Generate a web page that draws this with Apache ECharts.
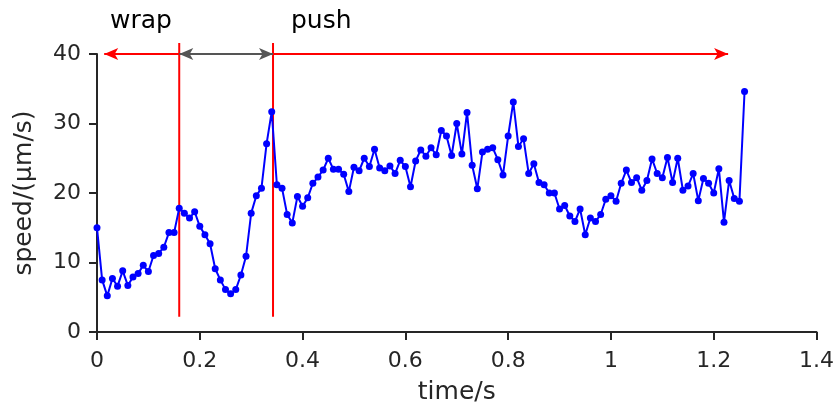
<!DOCTYPE html>
<html>
<head>
<meta charset="utf-8">
<script src="https://cdn.jsdelivr.net/npm/echarts@6/dist/echarts.min.js"></script>
<style>
  html, body { margin: 0; padding: 0; background: #fff; }
  #main { width: 837px; height: 412px; }
</style>
</head>
<body>
<div id="main"></div>
<script>
// 采样: 从 0 s 开始, 每 0.01 s 一个点
var t0 = 0;
var dt = 0.01;
// 速度 (μm/s)
var speed = [
  15.0, 7.5, 5.2, 7.7, 6.6, 8.8, 6.7, 7.9, 8.4, 9.6,
  8.7, 11.0, 11.3, 12.2, 14.3, 14.3, 17.8, 17.1, 16.4, 17.3,
  15.2, 14.0, 12.7, 9.1, 7.5, 6.1, 5.5, 6.1, 8.2, 10.9,
  17.1, 19.6, 20.7, 27.1, 31.7, 21.2, 20.7, 16.9, 15.7, 19.5,
  18.1, 19.3, 21.4, 22.3, 23.3, 25.0, 23.4, 23.4, 22.7, 20.2,
  23.7, 23.2, 25.0, 23.8, 26.3, 23.6, 23.2, 23.9, 22.8, 24.7,
  23.8, 20.9, 24.6, 26.2, 25.3, 26.5, 25.5, 29.0, 28.2, 25.4,
  30.0, 25.6, 31.6, 24.0, 20.6, 25.9, 26.3, 26.5, 24.8, 22.6,
  28.2, 33.1, 26.7, 27.8, 22.8, 24.2, 21.5, 21.2, 20.0, 20.0,
  17.7, 18.2, 16.7, 15.9, 17.7, 14.0, 16.4, 15.9, 16.9, 19.1,
  19.6, 18.8, 21.4, 23.3, 21.5, 22.2, 20.4, 21.8, 24.9, 22.8,
  22.2, 25.1, 21.5, 25.0, 20.4, 21.0, 22.8, 18.9, 22.1, 21.4,
  20.0, 23.5, 15.8, 21.8, 19.2, 18.8, 34.6
];
// 阶段分界 (s)
var wrapStart = 0.014;
var wrapEnd = 0.16;
var pushEnd = 0.3425;
var arrowEnd = 1.228;
var arrowY = 40;
var markLow = 2.2;
var markHigh = 41.6;
var phaseLabels = ['wrap', 'push'];

var axisColor = '#262626';
var font = 'DejaVu Sans';

(function(){
    var myChart = echarts.init(document.getElementById('main'));
    var points = speed.map(function(v, i){
        return [+(t0 + i * dt).toFixed(2), v];
    });
    // 竖直分界线
    function vline(x){
        return {
            type: 'line',
            data: [[x, markLow], [x, markHigh]],
            symbol: 'none',
            clip: false,
            silent: true,
            z: 1,
            lineStyle: { color: '#ff0000', width: 2 }
        };
    }
    var arrowSize = [9, 14];
    var option = {
        animation: false,
        grid: {
            left: 97,
            right: 18,
            top: 54,
            bottom: 80,
            containLabel: false
        },
        xAxis: {
            type: 'value',
            min: 0,
            max: 1.4,
            interval: 0.2,
            name: 'time/s',
            nameLocation: 'middle',
            nameGap: 48,
            nameTextStyle: { color: axisColor, fontSize: 25, fontFamily: font },
            axisLine: { lineStyle: { color: axisColor, width: 2 } },
            axisTick: { show: true, inside: false, length: 8, lineStyle: { color: axisColor, width: 2 } },
            axisLabel: {
                color: axisColor, fontSize: 22, fontFamily: font, margin: 18,
                formatter: function(v){ return String(+v.toFixed(1)); }
            },
            splitLine: { show: false }
        },
        yAxis: {
            type: 'value',
            min: 0,
            max: 40,
            interval: 10,
            name: 'speed/(μm/s)',
            nameLocation: 'middle',
            nameGap: 60,
            nameTextStyle: { color: axisColor, fontSize: 25, fontFamily: font },
            axisLine: { show: true, lineStyle: { color: axisColor, width: 2 } },
            axisTick: { show: true, inside: false, length: 8, lineStyle: { color: axisColor, width: 2 } },
            axisLabel: { color: axisColor, fontSize: 22, fontFamily: font, margin: 16 },
            splitLine: { show: false }
        },
        series: [
            vline(wrapEnd),
            vline(pushEnd),
            {
                name: 'speed',
                type: 'line',
                data: points,
                symbol: 'circle',
                symbolSize: 7,
                showAllSymbol: true,
                z: 3,
                itemStyle: { color: '#0000ff' },
                lineStyle: { color: '#0000ff', width: 2 },
                markLine: {
                    silent: true,
                    symbol: 'none',
                    label: { show: false },
                    data: [
                        // wrap 阶段箭头
                        [{ coord: [wrapStart, arrowY], symbol: 'arrow', symbolSize: arrowSize },
                         { coord: [wrapEnd, arrowY], symbol: 'none' }],
                        // 中间灰色双向箭头
                        [{ coord: [wrapEnd, arrowY], symbol: 'arrow', symbolSize: arrowSize,
                           lineStyle: { color: '#555555', width: 2, type: 'solid' } },
                         { coord: [pushEnd, arrowY], symbol: 'arrow', symbolSize: arrowSize }],
                        // push 阶段箭头
                        [{ coord: [pushEnd, arrowY], symbol: 'none' },
                         { coord: [arrowEnd, arrowY], symbol: 'arrow', symbolSize: arrowSize }]
                    ],
                    lineStyle: { color: '#ff0000', width: 2, type: 'solid' }
                }
            }
        ],
        graphic: [
            {
                type: 'text', left: 110, top: 9,
                style: { text: phaseLabels[0], fontSize: 25, fontFamily: font, fill: '#000' }
            },
            {
                type: 'text', left: 291, top: 9,
                style: { text: phaseLabels[1], fontSize: 25, fontFamily: font, fill: '#000' }
            }
        ]
    };
    myChart.setOption(option);
    window.addEventListener("resize", function(){
        myChart.resize();
    });
})();
</script>
</body>
</html>
